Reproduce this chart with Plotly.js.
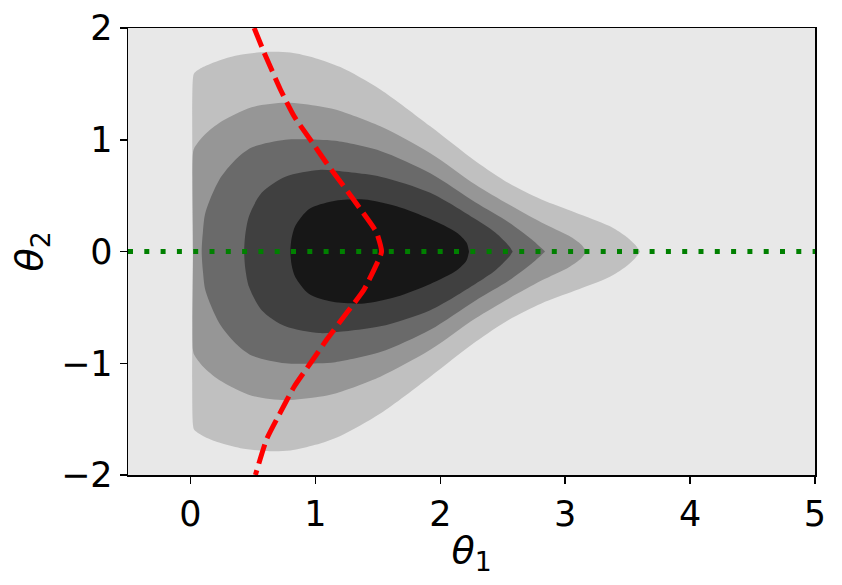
<!DOCTYPE html>
<html>
<head>
<meta charset="utf-8">
<script src="https://cdn.plot.ly/plotly-3.0.1.min.js"></script>
<style>html,body{margin:0;padding:0;background:#fff;}#plot{width:842px;height:585px;}</style>
</head>
<body>
<div id="plot"></div>
<script>
// Upper halves of the filled contour regions (symmetric about theta2 = 0), outermost first
const level1X = [0.02, 0.02, 0.03, 0.10, 0.23, 0.40, 0.60, 0.80, 1.00, 1.20, 1.52, 1.92, 2.28, 2.55, 2.81, 3.08, 3.35, 3.48, 3.56, 3.60];
const level1Y = [0.00, 1.55, 1.595, 1.65, 1.71, 1.76, 1.785, 1.78, 1.73, 1.65, 1.45, 1.12, 0.81, 0.61, 0.465, 0.35, 0.23, 0.14, 0.06, 0.00];
const level2X = [0.02, 0.02, 0.03, 0.10, 0.23, 0.49, 0.76, 1.03, 1.16, 1.52, 1.92, 2.28, 2.55, 2.81, 3.03, 3.13, 3.17];
const level2Y = [0.00, 0.88, 0.925, 1.03, 1.15, 1.29, 1.33, 1.30, 1.27, 1.12, 0.88, 0.60, 0.42, 0.26, 0.14, 0.06, 0.00];
const level3X = [0.09, 0.10, 0.12, 0.23, 0.36, 0.49, 0.76, 1.03, 1.16, 1.52, 1.92, 2.28, 2.55, 2.73, 2.84];
const level3Y = [0.00, 0.18, 0.35, 0.64, 0.82, 0.93, 1.00, 1.00, 0.99, 0.90, 0.70, 0.44, 0.26, 0.11, 0.00];
const level4X = [0.43, 0.44, 0.47, 0.57, 0.76, 1.03, 1.14, 1.52, 1.92, 2.28, 2.44, 2.55, 2.58];
const level4Y = [0.00, 0.16, 0.32, 0.525, 0.67, 0.73, 0.725, 0.67, 0.525, 0.29, 0.17, 0.05, 0.00];
const level5X = [0.80, 0.81, 0.84, 0.95, 1.14, 1.39, 1.65, 1.92, 2.13, 2.21, 2.23];
const level5Y = [0.00, 0.12, 0.23, 0.38, 0.45, 0.465, 0.405, 0.29, 0.17, 0.08, 0.00];
const levelColors = ['#c0c0c0', '#969696', '#6a6a6a', '#404040', '#171717'];
const bgColor = '#e8e8e8';

// Red dashed curve
const redX = [0.51, 0.59, 0.72, 0.83, 0.96, 1.09, 1.23, 1.36, 1.49, 1.53, 1.52, 1.39, 1.25, 1.09, 0.96, 0.83, 0.72, 0.61, 0.52];
const redY = [2.00, 1.78, 1.45, 1.21, 1.00, 0.79, 0.58, 0.38, 0.17, 0.00, -0.04, -0.34, -0.55, -0.79, -1.00, -1.21, -1.44, -1.68, -2.00];
// Green dotted line
const greenX = [-0.5, 5];
const greenY = [0, 0];

const xTicks = [0, 1, 2, 3, 4, 5];
const xTickText = ['0', '1', '2', '3', '4', '5'];
const yTicks = [-2, -1, 0, 1, 2];
const yTickText = ['\u22122', '\u22121', '0', '1', '2'];

function closedShape(xs, ys) {
  const x = xs.slice(), y = ys.slice();
  for (let i = xs.length - 1; i >= 0; i--) { x.push(xs[i]); y.push(-ys[i]); }
  return {x, y};
}

const levels = [[level1X, level1Y], [level2X, level2Y], [level3X, level3Y], [level4X, level4Y], [level5X, level5Y]];
const traces = levels.map((lv, i) => {
  const s = closedShape(lv[0], lv[1]);
  return {x: s.x, y: s.y, type: 'scatter', mode: 'lines', fill: 'toself',
    fillcolor: levelColors[i], line: {width: 0, color: levelColors[i], shape: 'spline', smoothing: 0.8},
    hoverinfo: 'skip', showlegend: false};
});
traces.push({x: greenX, y: greenY, type: 'scatter', mode: 'lines',
  line: {color: '#008000', width: 5, dash: '5px,11.3px'}, showlegend: false});
traces.push({x: redX, y: redY, type: 'scatter', mode: 'lines',
  line: {color: '#ff0000', width: 5, dash: '20px,7px', shape: 'spline', smoothing: 0.5}, showlegend: false});

const layout = {
  width: 842, height: 585,
  margin: {l: 128, r: 27, t: 28, b: 110, pad: 0},
  paper_bgcolor: '#ffffff', plot_bgcolor: bgColor,
  showlegend: false,
  xaxis: {range: [-0.5, 5], tickmode: 'array', tickvals: xTicks, ticktext: xTickText,
    ticks: 'outside', ticklen: 7, tickwidth: 1.5, tickcolor: '#000',
    showline: true, mirror: true, linecolor: '#000', linewidth: 1.5,
    showgrid: false, zeroline: false, tickfont: {family: 'DejaVu Sans', size: 35, color: '#000'},
    title: {text: '<i>θ</i><sub>1</sub>', font: {family: 'DejaVu Sans', size: 38, color: '#000'}, standoff: 4}},
  yaxis: {range: [-2, 2], tickmode: 'array', tickvals: yTicks, ticktext: yTickText,
    ticks: 'outside', ticklen: 7, tickwidth: 1.5, tickcolor: '#000',
    showline: true, mirror: true, linecolor: '#000', linewidth: 1.5,
    showgrid: false, zeroline: false, tickfont: {family: 'DejaVu Sans', size: 35, color: '#000'},
    title: {text: '<i>θ</i><sub>2</sub>', font: {family: 'DejaVu Sans', size: 38, color: '#000'}, standoff: 6}},
  font: {family: 'DejaVu Sans', color: '#000'}
};
Plotly.newPlot('plot', traces, layout, {staticPlot: true, displayModeBar: false});
</script>
</body>
</html>
